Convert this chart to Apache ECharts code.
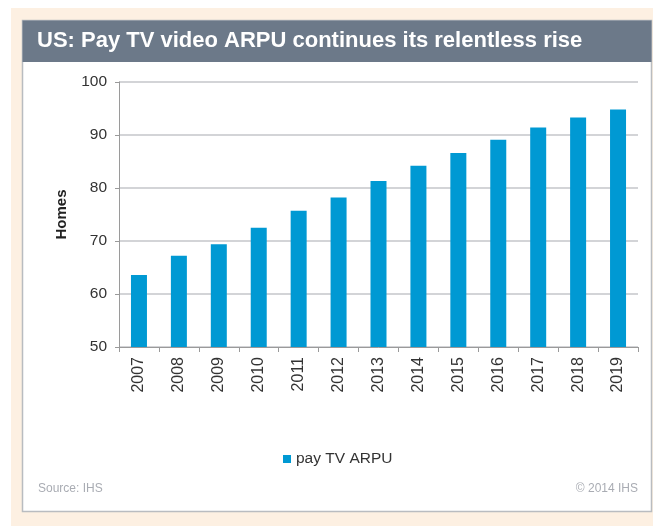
<!DOCTYPE html>
<html>
<head>
<meta charset="utf-8">
<script src="https://cdn.jsdelivr.net/npm/echarts@6/dist/echarts.min.js"></script>
<style>
  html, body { margin: 0; padding: 0; background: #fff; }
  #main { width: 653px; height: 526px; }
</style>
</head>
<body>
<div id="main"></div>
<script>
// data
var years = ['2007', '2008', '2009', '2010', '2011', '2012', '2013', '2014', '2015', '2016', '2017', '2018', '2019'];
var arpu = [63.6, 67.2, 69.4, 72.5, 75.7, 78.2, 81.3, 84.2, 86.6, 89.1, 91.4, 93.3, 94.8];
var seriesName = 'pay TV ARPU';
var titleText = 'US: Pay TV video ARPU continues its relentless rise';

var chart = echarts.init(document.getElementById('main'), null, { renderer: 'canvas' });

var font = '"Liberation Sans", Arial, sans-serif';

var option = {
  animation: false,
  textStyle: { fontFamily: font },
  graphic: [
    // peach backdrop
    { type: 'rect', z: -10, shape: { x: 11, y: 8, width: 642, height: 518 }, style: { fill: '#fdf0e2' } },
    // white panel
    { type: 'rect', z: -9, shape: { x: 22.5, y: 20.5, width: 629, height: 491 }, style: { fill: '#fff', stroke: '#b9bcc0', lineWidth: 1.5 } },
    // title bar
    { type: 'rect', z: -8, shape: { x: 22.5, y: 20.5, width: 629, height: 41.5 }, style: { fill: '#6c7989' } },
    { type: 'text', left: 37, top: 30, style: { text: titleText, fill: '#fff', font: 'bold 22px ' + font } },
    { type: 'text', left: 38, top: 483, style: { text: 'Source: IHS', fill: '#a9acb3', font: '12px ' + font } },
    { type: 'text', right: 15, top: 483, style: { text: '\u00a9 2014 IHS', fill: '#a9acb3', font: '12px ' + font } }
  ],
  grid: { left: 119, right: 15, top: 82, bottom: 179 },
  legend: {
    left: 278,
    top: 446,
    itemWidth: 8,
    itemHeight: 8,
    icon: 'rect',
    textStyle: { fontSize: 15.5, color: '#333', fontFamily: font },
    data: [seriesName]
  },
  xAxis: {
    type: 'category',
    data: years,
    axisLine: { lineStyle: { color: '#9a9a9a', width: 1 } },
    axisTick: { show: true, length: 5, lineStyle: { color: '#9a9a9a' } },
    axisLabel: { rotate: 90, fontSize: 16, color: '#333', margin: 10 }
  },
  yAxis: {
    type: 'value',
    min: 50,
    max: 100,
    interval: 10,
    name: 'Homes',
    nameLocation: 'middle',
    nameRotate: 90,
    nameGap: 50,
    nameTextStyle: { fontSize: 15, fontWeight: 'bold', color: '#222' },
    axisLine: { show: true, lineStyle: { color: '#9a9a9a', width: 1 } },
    axisTick: { show: true, length: 4, lineStyle: { color: '#9a9a9a' } },
    axisLabel: { fontSize: 15.5, color: '#333', margin: 12 },
    splitLine: { lineStyle: { color: '#c4c6ca', width: 1.5 } }
  },
  series: [{
    name: seriesName,
    type: 'bar',
    data: arpu,
    barWidth: 16,
    itemStyle: { color: '#0099d3' }
  }]
};

chart.setOption(option);
</script>
</body>
</html>
